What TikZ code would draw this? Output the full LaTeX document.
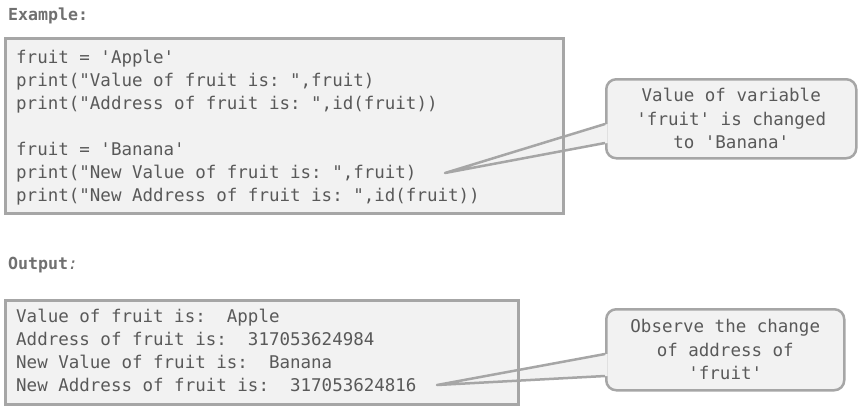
\documentclass[tikz,border=0pt]{standalone}
\usepackage{fontspec}
\setmonofont{DejaVu Sans Mono}
\usetikzlibrary{calc}
\definecolor{bordc}{HTML}{A6A6A6}
\definecolor{fillc}{HTML}{F2F2F2}
\definecolor{txtc}{HTML}{595959}
\definecolor{headc}{HTML}{707070}
\begin{document}
\begin{tikzpicture}[x=1pt,y=-1pt,
 codeline/.style={anchor=base west, inner sep=0pt, font=\ttfamily\fontsize{17.5}{23}\selectfont, text=txtc},
 head/.style={anchor=base west, inner sep=0pt, font=\ttfamily\bfseries\fontsize{16.6}{20}\selectfont, text=headc},
 boxfill/.style={fill=fillc, draw=none, inner sep=0pt, anchor=north west},
 boxline/.style={draw=bordc, line width=3pt},
 callbox/.style={draw=bordc, fill=fillc, line width=2.5pt, rounded corners=10pt, align=center, inner sep=0pt, anchor=north west, font=\ttfamily\fontsize{17.5}{23.5}\selectfont, text=txtc},
 pointerline/.style={draw=bordc, line width=2.5pt, line join=round}]
\useasboundingbox (0,0) rectangle (866,415);
% headings
\node[head] (hex) at (8,20) {Example:};
\node[head] (hout) at (8,269) {Output{\mdseries\itshape :}};
% box fills
\node[boxfill, minimum width=558pt, minimum height=175pt] (ex) at (5,38) {};
\node[boxfill, minimum width=513pt, minimum height=104pt] (out) at (5,300) {};
% callouts
\node[callbox, minimum width=250pt, minimum height=79pt] (c1) at (605,78) {Value of variable\\'fruit' is changed\\to 'Banana'};
\coordinate (t1) at (445,173);
\coordinate (a1) at ($(c1.north west)+(0,46)$);
\coordinate (b1) at ($(c1.north west)+(0,65)$);
\fill[fillc] (t1) -- ($(a1)+(2.5,0)$) -- ($(b1)+(2.5,0)$) -- cycle;
\draw[pointerline] (a1) -- (t1) -- (b1);
\node[callbox, minimum width=238pt, minimum height=81pt] (c2) at (605,308) {Observe the change\\of address of\\'fruit'};
\coordinate (t2) at (437,385);
\coordinate (a2) at ($(c2.north west)+(0,46)$);
\coordinate (b2) at ($(c2.north west)+(0,68)$);
\fill[fillc] (t2) -- ($(a2)+(2.5,0)$) -- ($(b2)+(2.5,0)$) -- cycle;
\draw[pointerline] (a2) -- (t2) -- (b2);
% box borders
\draw[boxline] (ex.north west) rectangle (ex.south east);
\draw[boxline] (out.north west) rectangle (out.south east);
% code
\node[codeline] (l1) at (16,63) {fruit = 'Apple'};
\node[codeline] (l2) at (16,86) {print("Value of fruit is: ",fruit)};
\node[codeline] (l3) at (16,109) {print("Address of fruit is: ",id(fruit))};
\node[codeline] (l4) at (16,155) {fruit = 'Banana'};
\node[codeline] (l5) at (16,178) {print("New Value of fruit is: ",fruit)};
\node[codeline] (l6) at (16,201) {print("New Address of fruit is: ",id(fruit))};
% output
\node[codeline] (o1) at (16,322) {Value of fruit is:\ \ Apple};
\node[codeline] (o2) at (16,345) {Address of fruit is:\ \ 317053624984};
\node[codeline] (o3) at (16,368) {New Value of fruit is:\ \ Banana};
\node[codeline] (o4) at (16,391) {New Address of fruit is:\ \ 317053624816};
\end{tikzpicture}
\end{document}
